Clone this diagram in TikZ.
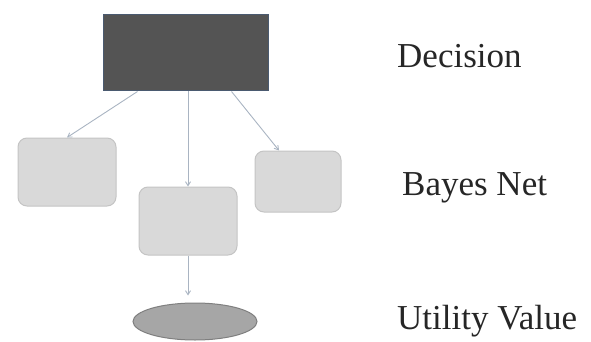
\documentclass[tikz,border=0pt]{standalone}
\usepackage{fontspec}
\setmainfont{Liberation Serif}
\usetikzlibrary{calc,shapes.geometric,arrows.meta}
\definecolor{decfill}{HTML}{545454}
\definecolor{decline}{HTML}{4A5A70}
\definecolor{bnfill}{HTML}{D9D9D9}
\definecolor{bnline}{HTML}{C4C4C4}
\definecolor{utfill}{HTML}{A6A6A6}
\definecolor{utline}{HTML}{7F7F7F}
\definecolor{arr}{HTML}{A9B4C2}
\tikzset{
  x=1pt,y=-1pt,
  decbox/.style={draw=decline,fill=decfill,line width=1pt,inner sep=0,minimum width=165pt,minimum height=76pt},
  bnbox/.style={draw=bnline,fill=bnfill,line width=1pt,rounded corners=9pt,inner sep=0},
  utnode/.style={ellipse,draw=utline,fill=utfill,line width=1pt,inner sep=0,minimum width=124pt,minimum height=37pt},
  conn/.style={draw=arr,line width=0.9pt,-{Straight Barb[length=4pt,width=5pt]}},
  lbl/.style={anchor=base west,inner sep=0,font=\fontsize{35}{40}\selectfont,text=black!85}
}
\begin{document}
\begin{tikzpicture}
\useasboundingbox (0,0) rectangle (591,342);
\node[decbox] (dec) at (185.5,53) {};
\node[bnbox,minimum width=98pt,minimum height=68pt] (left) at (67,172) {};
\node[bnbox,minimum width=98pt,minimum height=68pt] (mid) at (188,221) {};
\node[bnbox,minimum width=86pt,minimum height=61pt] (right) at (298,181.5) {};
\node[utnode] (ut) at (195,321.5) {};
\node[lbl] (tdec) at (397,68) {Decision};
\node[lbl] (tbn) at (402,195) {Bayes Net};
\node[lbl] (tut) at (397,329) {Utility Value};
\draw[conn] ($(dec.south)+(-48,0)$) -- (left.north);
\draw[conn] (mid.north |- dec.south) -- (mid.north);
\draw[conn] ($(dec.south)+(46,0)$) -- ($(right.north)+(-19,0)$);
\draw[conn,shorten >=7pt] (mid.south) -- (mid.south |- ut.north);
\end{tikzpicture}
\end{document}
